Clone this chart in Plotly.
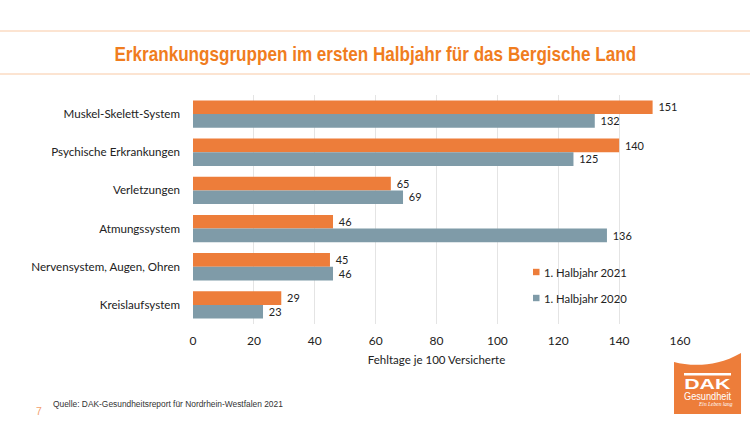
import plotly.graph_objects as go

categories = ["Muskel-Skelett-System", "Psychische Erkrankungen", "Verletzungen",
              "Atmungssystem", "Nervensystem, Augen, Ohren", "Kreislaufsystem"]
values_2021 = [151, 140, 65, 46, 45, 29]
values_2020 = [132, 125, 69, 136, 46, 23]
name_2021 = "1. Halbjahr 2021"
name_2020 = "1. Halbjahr 2020"
tick_values = [0, 20, 40, 60, 80, 100, 120, 140, 160]

W, H = 750, 421
L, R, T, B = 193, 680, 95, 324
ORANGE = "#ED7D3A"
BLUE = "#7F9BA8"
FONT = "Lato"
TXT = "#222222"


def px(x):
    return (x - L) / (R - L)


def py(y):
    return (B - y) / (B - T)


fig = go.Figure()
for name, vals, col in [(name_2021, values_2021, ORANGE), (name_2020, values_2020, BLUE)]:
    fig.add_trace(go.Bar(
        y=categories, x=vals, name=name, orientation="h",
        marker=dict(color=col, line=dict(width=0)),
        text=[f" {v}" for v in vals], textposition="outside", cliponaxis=False,
        textfont=dict(family=FONT, size=12, color=TXT),
    ))

shapes = []
for y in (31, 74):
    shapes.append(dict(type="line", xref="paper", yref="paper", x0=px(0), x1=px(750), y0=py(y), y1=py(y),
                       line=dict(color="#F9C9A4", width=1), layer="below"))
# Legend swatches
for yy, col in ((272, ORANGE), (298, BLUE)):
    shapes.append(dict(type="rect", xref="paper", yref="paper", x0=px(533), x1=px(539.5), y0=py(yy + 3.2), y1=py(yy - 3.2),
                       fillcolor=col, line=dict(width=0), layer="above"))
# Logo
x0, x1, yb = 674, 741, 414
logo = (f"M {px(x0):.4f},{py(yb):.4f} L {px(x0):.4f},{py(362):.4f} "
        f"C {px(690):.4f},{py(366):.4f} {px(715):.4f},{py(368):.4f} {px(x1):.4f},{py(353):.4f} "
        f"L {px(x1):.4f},{py(yb):.4f} Z")
shapes.append(dict(type="path", xref="paper", yref="paper", path=logo, fillcolor=ORANGE, line=dict(width=0), layer="above"))
shapes.append(dict(type="rect", xref="paper", yref="paper", x0=px(684), x1=px(731), y0=py(375.5), y1=py(373),
                   fillcolor="white", line=dict(width=0), layer="above"))

annotations = [
    dict(text="<b>Erkrankungsgruppen im ersten Halbjahr für das Bergische Land</b>", x=px(375), y=py(53),
         font=dict(family="Liberation Sans", size=21, color="#F07D1E")),
    dict(text="Quelle: DAK-Gesundheitsreport für Nordrhein-Westfalen 2021", x=px(50.5), y=py(404), xanchor="left",
         font=dict(family="Liberation Sans", size=8.4, color="#333333")),
    dict(text="7", x=px(39), y=py(411), font=dict(family="Liberation Sans", size=10.5, color="#F2A06E")),
    dict(text="<b>DAK</b>", x=px(707.5), y=py(383), font=dict(family="Liberation Sans", size=15, color="white")),
    dict(text="Gesundheit", x=px(707.5), y=py(395.5), font=dict(family="Liberation Sans", size=11.5, color="white")),
    dict(text="<i>Ein Leben lang</i>", x=px(715), y=py(403.5), font=dict(family="Liberation Serif", size=5.5, color="white")),
    dict(text=name_2021, x=px(542), y=py(272), xanchor="left", font=dict(family=FONT, size=11.3, color=TXT)),
    dict(text=name_2020, x=px(542), y=py(298), xanchor="left", font=dict(family=FONT, size=11.3, color=TXT)),
]
for a in annotations:
    a.update(xref="paper", yref="paper", showarrow=False, yanchor="middle", xanchor=a.get("xanchor", "center"))

fig.update_layout(
    width=W, height=H, autosize=False,
    margin=dict(l=L, r=W - R, t=T, b=H - B, pad=0),
    paper_bgcolor="white", plot_bgcolor="white",
    barmode="group", bargap=0.283, bargroupgap=0,
    shapes=shapes, annotations=annotations,
    showlegend=False,
    xaxis=dict(range=[0, 160], tickvals=tick_values, showgrid=True, gridcolor="#E4E4E4", gridwidth=1,
               zeroline=False, showline=False, ticks="", tickfont=dict(family=FONT, size=12, color=TXT),
               ticklabelstandoff=8,
               title=dict(text="Fehltage je 100 Versicherte", font=dict(family=FONT, size=11.5, color=TXT), standoff=8)),
    yaxis=dict(autorange="reversed", showgrid=False, zeroline=False, ticks="", showline=False,
               tickfont=dict(family=FONT, size=11.6, color=TXT), ticklabelstandoff=12),
)

# Page margin off; condense texts that the reference sets in a narrow face.
post = """
document.body.style.margin = '0';
var squeeze = {'Erkrankungsgruppen': 0.815, 'Gesundheit': 0.8, 'DAK': 1.42};
document.querySelectorAll('.annotation-text').forEach(function (t) {
  var s = t.textContent;
  var k = Object.keys(squeeze).find(function (n) { return s === n || s.indexOf(n + ' ') === 0; });
  if (!k) return;
  var b = t.getBBox(), c = b.x + b.width / 2;
  t.setAttribute('transform', 'translate(' + c + ' 0) scale(' + squeeze[k] + ' 1) translate(' + (-c) + ' 0)');
});
"""
fig.write_html("out.html", post_script=post, config={"displayModeBar": False})
